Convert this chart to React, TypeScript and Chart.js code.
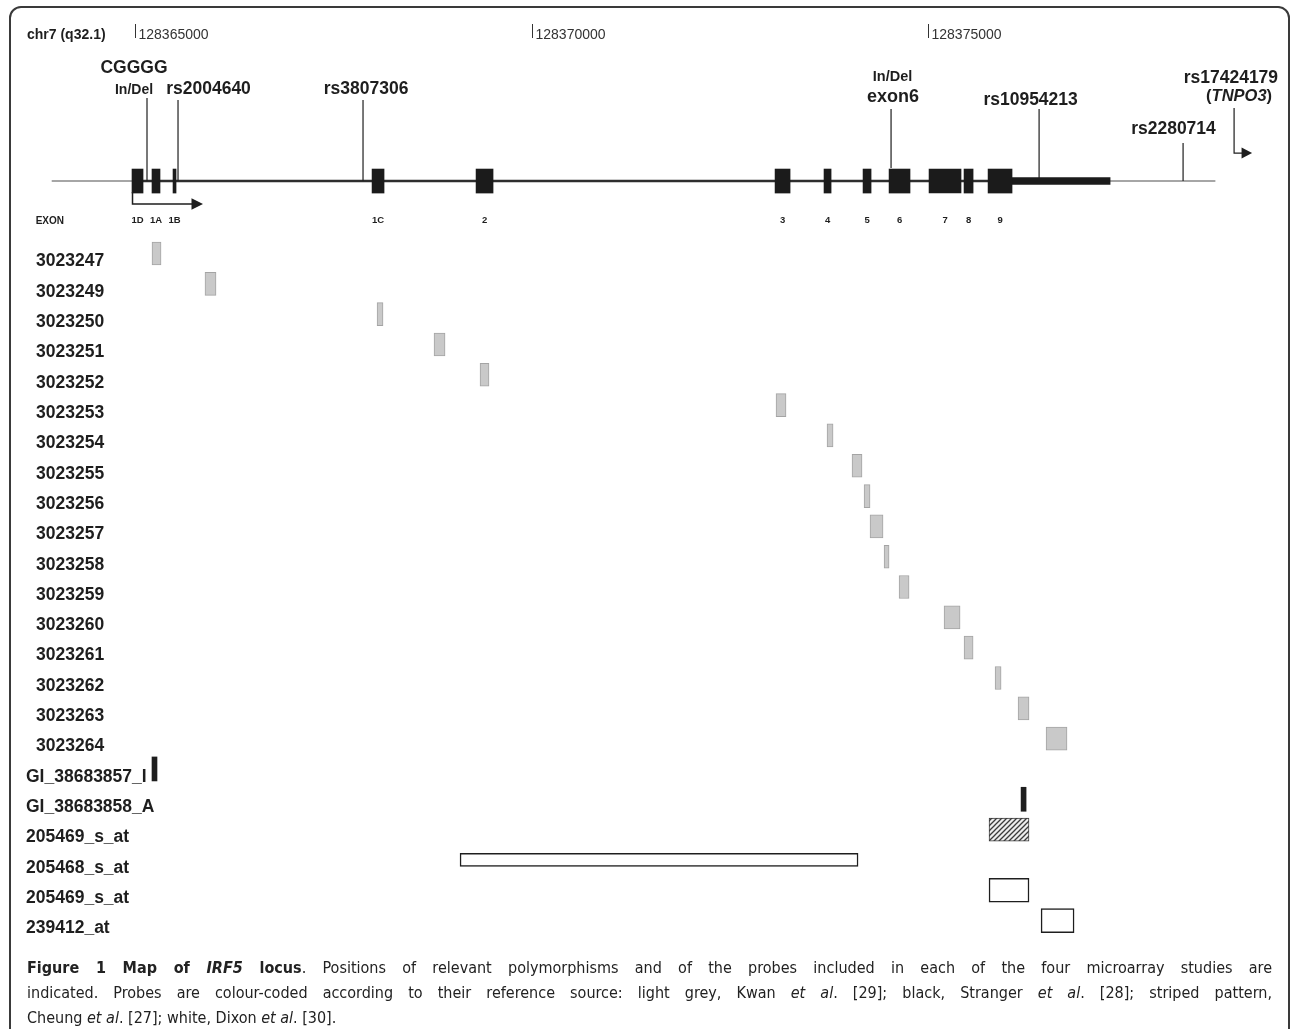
import React, { useEffect, useRef } from "react";
import { Chart, registerables } from "chart.js";
Chart.register(...registerables);

// ---------------- data ----------------
const CHROM_LABEL = "chr7 (q32.1)";
const COORD_TICKS = [128365000, 128370000, 128375000];

const EXON_NAMES = ["1D", "1A", "1B", "1C", "2", "3", "4", "5", "6", "7", "8", "9"];
const EXON_STARTS = [128364962, 128365214, 128365479, 128367988, 128369299, 128373068, 128373685, 128374177, 128374505, 128375009, 128375450, 128375753];
const EXON_ENDS = [128365101, 128365315, 128365517, 128368139, 128369513, 128373257, 128373774, 128374278, 128374769, 128375412, 128375564, 128376055];
const UTR3_SPAN = [128376055, 128377291];
const INTRON_SPAN = [128364975, 128376055];
const FLANK_SPAN = [128363954, 128378614];
const TSS_ARROW_END = 128365857;

const SNP_POS = [128365151, 128365542, 128367874, 128374530, 128376396, 128378211, 128378854];
const SNP_LABEL_LINES = [
  ["CGGGG", "In/Del"],
  ["rs2004640"],
  ["rs3807306"],
  ["In/Del", "exon6"],
  ["rs10954213"],
  ["rs2280714"],
  ["rs17424179", "(*TNPO3*)"],
];

const PROBE_NAMES = [
  "3023247", "3023249", "3023250", "3023251", "3023252", "3023253", "3023254", "3023255",
  "3023256", "3023257", "3023258", "3023259", "3023260", "3023261", "3023262", "3023263",
  "3023264", "GI_38683857_I", "GI_38683858_A", "205469_s_at", "205468_s_at", "205469_s_at", "239412_at",
];
const PROBE_STARTS = [
  128365214, 128365882, 128368051, 128368769, 128369349, 128373080, 128373723, 128374038,
  128374190, 128374265, 128374442, 128374631, 128375198, 128375450, 128375841, 128376131,
  128376484, 128365214, 128376169, 128375765, 128369097, 128375765, 128376421,
];
const PROBE_ENDS = [
  128365328, 128366021, 128368126, 128368908, 128369462, 128373206, 128373799, 128374164,
  128374265, 128374429, 128374505, 128374757, 128375400, 128375564, 128375917, 128376269,
  128376748, 128365277, 128376232, 128376269, 128374114, 128376269, 128376837,
];
const PROBE_SOURCE = [
  "Kwan", "Kwan", "Kwan", "Kwan", "Kwan", "Kwan", "Kwan", "Kwan",
  "Kwan", "Kwan", "Kwan", "Kwan", "Kwan", "Kwan", "Kwan", "Kwan",
  "Kwan", "Stranger", "Stranger", "Cheung", "Dixon", "Dixon", "Dixon",
];

// ---------------- layout / style ----------------
const W = 1292;
const H = 1029;
const FONT = '"Liberation Sans", Arial, Helvetica, sans-serif';
const INK = "#1e1e1e";
const X_MIN = 128363298;
const X_MAX = 128379584;
const Y_MIN = -8.361;
const Y_MAX = 25.577;
const GENE_ROW = -2.39;
const LABEL_DY = 6.5;
const LONG_PROBE_PX = 13;

const SOURCE_STYLE: Record<string, any> = {
  Kwan: { bg: "#c9c9c9", border: "#a4a4a4", bw: 1, px: 23, indent: 36 },
  Stranger: { bg: "#1e1e1e", border: "#1e1e1e", bw: 0, px: 24, indent: 26 },
  Cheung: { bg: "hatch", border: "#3a3a3a", bw: 1, px: 23, indent: 26 },
  Dixon: { bg: "#ffffff", border: "#1e1e1e", bw: 1.5, px: 24, indent: 26 },
};

// per SNP: label line offsets (dx from stem, dy from gene line), font sizes, stem extent
const SNP_LAYOUT = [
  { dx: [-13, -13], dy: [-114, -92], size: [17.5, 14], stemTop: -83, stemBottom: 0 },
  { dx: [30.5], dy: [-93], size: [17.5], stemTop: -81, stemBottom: 0 },
  { dx: [3], dy: [-93], size: [17.5], stemTop: -81, stemBottom: 0 },
  { dx: [1.5, 2], dy: [-105, -85.5], size: [14.5, 18], stemTop: -72, stemBottom: -13 },
  { dx: [-8.5], dy: [-82], size: [17.5], stemTop: -72, stemBottom: 0 },
  { dx: [-9.6], dy: [-53], size: [17.5], stemTop: -38, stemBottom: 0 },
  { dx: [-3.2, 5], dy: [-104, -85.5], size: [17.5, 16.5], stemTop: -73, stemBottom: -28, arrow: 18 },
];

function makeHatch(): CanvasPattern | string {
  const c = document.createElement("canvas");
  c.width = 5;
  c.height = 5;
  const g = c.getContext("2d");
  if (!g) return "#888";
  g.fillStyle = "#ececec";
  g.fillRect(0, 0, 5, 5);
  g.strokeStyle = "#3a3a3a";
  g.lineWidth = 1.3;
  g.beginPath();
  g.moveTo(-1, 6); g.lineTo(6, -1);
  g.moveTo(-1, 1); g.lineTo(1, -1);
  g.moveTo(4, 6); g.lineTo(6, 4);
  g.stroke();
  return g.createPattern(c, "repeat") || "#888";
}

function drawParts(ctx: CanvasRenderingContext2D, line: string, cx: number, cy: number, size: number) {
  // "*...*" marks italic segments
  const segs = line.split("*").map((t, i) => ({ t, italic: i % 2 === 1 })).filter((s) => s.t.length);
  const fontOf = (it: boolean) => `${it ? "italic " : ""}bold ${size}px ${FONT}`;
  let total = 0;
  segs.forEach((s) => { ctx.font = fontOf(s.italic); total += ctx.measureText(s.t).width; });
  let x = cx - total / 2;
  ctx.textAlign = "left";
  ctx.textBaseline = "alphabetic";
  segs.forEach((s) => {
    ctx.font = fontOf(s.italic);
    ctx.fillText(s.t, x, cy + size * 0.36);
    x += ctx.measureText(s.t).width;
  });
}

function arrowHead(ctx: CanvasRenderingContext2D, x: number, y: number, len: number, half: number) {
  ctx.beginPath();
  ctx.moveTo(x, y);
  ctx.lineTo(x - len, y - half);
  ctx.lineTo(x - len, y + half);
  ctx.closePath();
  ctx.fill();
}

const overlayPlugin = {
  id: "locusOverlay",
  afterDatasetsDraw(chart: any) {
    const ctx: CanvasRenderingContext2D = chart.ctx;
    const xs = chart.scales.x;
    const ys = chart.scales.y;
    const top = chart.chartArea.top;
    const gy = ys.getPixelForValue(GENE_ROW);
    ctx.save();
    ctx.fillStyle = INK;
    ctx.strokeStyle = INK;

    // chromosome + coordinate ticks
    ctx.font = `bold 14px ${FONT}`;
    ctx.textAlign = "left";
    ctx.textBaseline = "alphabetic";
    ctx.fillText(CHROM_LABEL, 27, top + 33.5 + 5);
    COORD_TICKS.forEach((t) => {
      const x = Math.round(xs.getPixelForValue(t)) + 0.5;
      ctx.strokeStyle = "#333";
      ctx.lineWidth = 1;
      ctx.beginPath();
      ctx.moveTo(x, top + 24);
      ctx.lineTo(x, top + 38);
      ctx.stroke();
      ctx.fillStyle = "#333";
      ctx.font = `14px ${FONT}`;
      ctx.fillText(String(t), x + 3, top + 33.5 + 5);
    });
    ctx.fillStyle = INK;
    ctx.strokeStyle = INK;

    // SNP stems and labels
    SNP_POS.forEach((p, i) => {
      const L = SNP_LAYOUT[i];
      const x = xs.getPixelForValue(p);
      ctx.lineWidth = 1.2;
      if (L.arrow) {
        ctx.beginPath();
        ctx.moveTo(x, gy + L.stemTop);
        ctx.lineTo(x, gy + L.stemBottom);
        ctx.lineTo(x + L.arrow - 8, gy + L.stemBottom);
        ctx.stroke();
        arrowHead(ctx, x + L.arrow, gy + L.stemBottom, 10.5, 5.5);
      } else {
        ctx.beginPath();
        ctx.moveTo(x, gy + L.stemTop);
        ctx.lineTo(x, gy + L.stemBottom);
        ctx.stroke();
      }
      SNP_LABEL_LINES[i].forEach((line, j) => {
        drawParts(ctx, line, x + L.dx[j], gy + L.dy[j], L.size[j]);
      });
    });

    // transcription start arrow
    const tx = xs.getPixelForValue(EXON_STARTS[0]) + 0.5;
    const tEnd = xs.getPixelForValue(TSS_ARROW_END);
    ctx.lineWidth = 1.5;
    ctx.beginPath();
    ctx.moveTo(tx, gy + 11);
    ctx.lineTo(tx, gy + 23);
    ctx.lineTo(tEnd - 8, gy + 23);
    ctx.stroke();
    arrowHead(ctx, tEnd, gy + 23, 11.5, 5.8);

    // exon labels
    ctx.font = `bold 10px ${FONT}`;
    ctx.textAlign = "left";
    ctx.fillText("EXON", 35.7, gy + 39 + 3.6);
    ctx.textAlign = "center";
    ctx.font = `bold 9.5px ${FONT}`;
    EXON_NAMES.forEach((n, i) => {
      const cx = (xs.getPixelForValue(EXON_STARTS[i]) + xs.getPixelForValue(EXON_ENDS[i])) / 2;
      ctx.fillText(n, cx, gy + 39 + 3.4);
    });

    // probe labels
    ctx.textAlign = "left";
    ctx.font = `bold 17.5px ${FONT}`;
    PROBE_NAMES.forEach((n, i) => {
      const y = ys.getPixelForValue(i) + LABEL_DY;
      ctx.fillText(n, SOURCE_STYLE[PROBE_SOURCE[i]].indent, y + 17.5 * 0.36);
    });
    ctx.restore();
  },
};

export default function App() {
  const ref = useRef<HTMLCanvasElement>(null);
  useEffect(() => {
    const canvas = ref.current;
    if (!canvas) return;
    const hatch = makeHatch();
    const datasets: any[] = [];
    datasets.push({
      label: "exons",
      data: EXON_STARTS.map((s, i) => ({ x: [s, EXON_ENDS[i]], y: GENE_ROW })),
      backgroundColor: "#1b1b1b", borderWidth: 0, barThickness: 24, order: 0,
    });
    datasets.push({
      label: "3'UTR", data: [{ x: UTR3_SPAN, y: GENE_ROW }],
      backgroundColor: "#1b1b1b", borderWidth: 0, barThickness: 7, order: 1,
    });
    datasets.push({
      label: "intron", data: [{ x: INTRON_SPAN, y: GENE_ROW }],
      backgroundColor: "#2e2e2e", borderWidth: 0, barThickness: 2, order: 2,
    });
    datasets.push({
      label: "flank", data: [{ x: FLANK_SPAN, y: GENE_ROW }],
      backgroundColor: "#a6a6a6", borderWidth: 0, barThickness: 1.5, order: 3,
    });
    PROBE_NAMES.forEach((n, i) => {
      const st = SOURCE_STYLE[PROBE_SOURCE[i]];
      const long = PROBE_ENDS[i] - PROBE_STARTS[i] > 3000;
      datasets.push({
        label: n,
        data: [{ x: [PROBE_STARTS[i], PROBE_ENDS[i]], y: i }],
        backgroundColor: st.bg === "hatch" ? hatch : st.bg,
        borderColor: st.border,
        borderWidth: st.bw,
        borderSkipped: false,
        barThickness: long ? LONG_PROBE_PX : st.px,
        order: 0,
      });
    });

    const chart = new Chart(canvas, {
      type: "bar",
      data: { datasets },
      options: {
        animation: false,
        responsive: false,
        indexAxis: "y",
        events: [],
        layout: { padding: 0 },
        datasets: { bar: { grouped: false } },
        plugins: { legend: { display: false }, tooltip: { enabled: false } },
        scales: {
          x: { type: "linear", min: X_MIN, max: X_MAX, display: false, offset: false },
          y: { type: "linear", min: Y_MIN, max: Y_MAX, reverse: true, display: false, offset: false },
        },
      } as any,
      plugins: [overlayPlugin],
    });
    return () => chart.destroy();
  }, []);

  const capFont = '"Liberation Sans Narrow", "DejaVu Sans Condensed", "Roboto Condensed", Roboto, sans-serif';
  const lineStyle: React.CSSProperties = {
    height: 25, lineHeight: "25px", whiteSpace: "nowrap",
  };
  const justified: React.CSSProperties = {
    ...lineStyle, textAlign: "justify", textAlignLast: "justify", whiteSpace: "normal", overflow: "hidden",
  };

  return (
    <div style={{ position: "absolute", left: 0, top: 0, width: W, height: H, overflow: "hidden", background: "#fff" }}>
      <canvas ref={ref} width={W} height={H} style={{ position: "absolute", left: 0, top: 0, width: W, height: H }} />
      <div
        style={{
          position: "absolute", left: 9, top: 6, width: 1281, height: 1100,
          border: "2px solid #3a3a3a", borderRadius: 12, boxSizing: "border-box", pointerEvents: "none",
        }}
      />
      <div
        style={{
          position: "absolute", left: 27, top: 954.5, width: 1245,
          fontFamily: capFont, fontSize: 16, color: "#222",
        }}
      >
        <div style={justified}>
          <b>Figure 1 Map of <i>IRF5</i> locus</b>. Positions of relevant polymorphisms and of the probes included in each of the four microarray studies are
        </div>
        <div style={justified}>
          indicated. Probes are colour-coded according to their reference source: light grey, Kwan <i>et al</i>. [29]; black, Stranger <i>et al</i>. [28]; striped pattern,
        </div>
        <div style={lineStyle}>
          Cheung <i>et al</i>. [27]; white, Dixon <i>et al</i>. [30].
        </div>
      </div>
    </div>
  );
}
